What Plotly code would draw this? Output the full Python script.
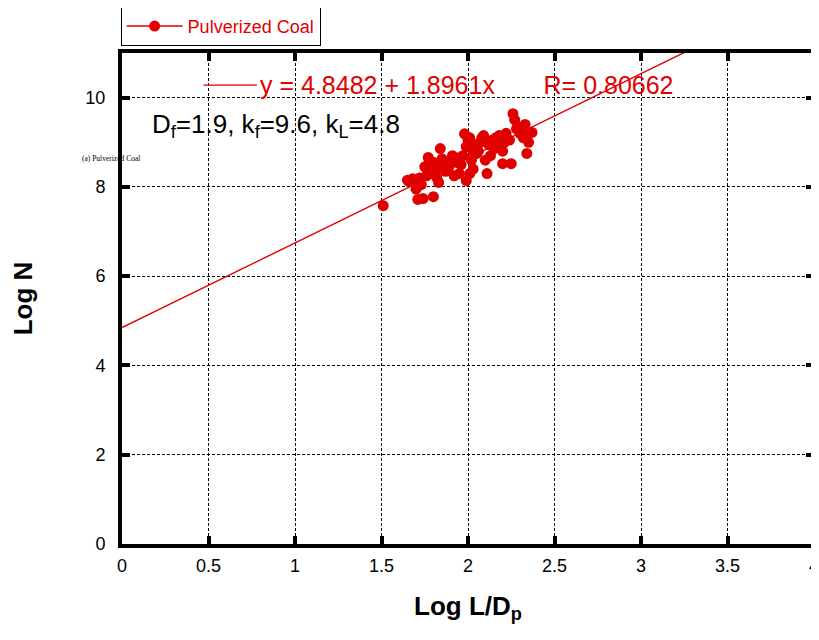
import plotly.graph_objects as go

# Data: Log L/Dp vs Log N (Pulverized Coal)
log_ldp = [1.51,
           1.65, 1.66, 1.68, 1.70, 1.71, 1.73, 1.72, 1.74, 1.77, 1.75, 1.80,
           1.76, 1.78, 1.79, 1.80, 1.84, 1.85, 1.82, 1.81, 1.83, 1.79, 1.84,
           1.86, 1.88, 1.90, 1.87, 1.91, 1.89, 1.92, 1.93, 1.94, 1.95,
           1.96, 1.97, 1.99, 1.98, 2.00, 1.99, 2.01, 2.02, 2.03, 2.04, 2.01, 2.03, 2.05,
           2.06, 2.07, 2.09, 2.08, 2.11, 2.10, 2.12, 2.13, 2.14, 2.15,
           2.16, 2.18, 2.17, 2.25, 2.20, 2.21, 2.22, 2.20, 2.24,
           2.26, 2.27, 2.28, 2.30, 2.31, 2.34, 2.29, 2.32, 2.33, 2.37, 2.35]
log_n = [7.58,
         8.15, 8.12, 8.18, 7.95, 7.72, 8.05, 8.20, 7.74, 8.66, 8.45, 7.78,
         8.25, 8.30, 8.40, 8.55, 8.86, 8.63, 8.20, 8.35, 8.10, 8.48, 8.45,
         8.40, 8.50, 8.60, 8.35, 8.70, 8.45, 8.25, 8.55, 8.65, 8.30,
         8.50, 8.70, 8.90, 9.19, 9.05, 8.14, 8.30, 8.60, 8.80, 8.95, 9.10, 8.40, 8.75,
         8.80, 9.00, 9.15, 9.10, 8.30, 8.60, 8.95, 8.70, 9.05, 8.85,
         9.10, 9.15, 8.90, 8.52, 8.80, 9.00, 9.20, 8.52, 9.05,
         9.64, 9.50, 9.30, 9.20, 9.25, 8.75, 9.35, 9.10, 9.40, 9.22, 9.00]

fit_intercept = 4.8482
fit_slope = 1.8961
fit_r = 0.80662
fit_x = [0, 4]

x_ticks = [0, 0.5, 1, 1.5, 2, 2.5, 3, 3.5, 4]
x_tick_text = ["0", "0.5", "1", "1.5", "2", "2.5", "3", "3.5", "4"]
y_ticks = [0, 2, 4, 6, 8, 10]
y_tick_text = ["0", "2", "4", "6", "8", "10"]

RED = "#e00000"
FONT = "Arial, Liberation Sans, sans-serif"
SP = "&nbsp;"

fig = go.Figure()

fig.add_trace(go.Scatter(
    x=fit_x, y=[fit_intercept + fit_slope * v for v in fit_x],
    mode="lines", line=dict(color=RED, width=1.4), showlegend=False,
    hoverinfo="skip"))

fig.add_trace(go.Scatter(
    x=log_ldp, y=log_n, mode="markers",
    marker=dict(color=RED, size=11, line=dict(width=0)),
    showlegend=False))

# legend entry (line + marker symbol)
fig.add_trace(go.Scatter(
    x=[None], y=[None], mode="lines+markers", name="Pulverized Coal",
    line=dict(color=RED, width=1.4), marker=dict(color=RED, size=11)))

# fit equation label
fig.add_shape(type="line", x0=0.47, x1=0.78, y0=10.28, y1=10.28,
              line=dict(color=RED, width=1.4))
fig.add_annotation(x=0.785, y=10.28, xanchor="left", yanchor="middle",
                   text=f"y = {fit_intercept} + {fit_slope}x{SP*7}R= {fit_r}",
                   showarrow=False, font=dict(family=FONT, size=25, color=RED))

fig.add_annotation(x=0.16, y=9.38, xanchor="left", yanchor="middle",
                   text="D<sub>f</sub>=1.9, k<sub>f</sub>=9.6, k<sub>L</sub>=4.8",
                   showarrow=False, font=dict(family=FONT, size=26, color="black"))

fig.add_annotation(xref="paper", yref="paper", x=-0.0607, y=0.786,
                   xanchor="left", yanchor="middle",
                   text="(a) Pulverized Coal", showarrow=False,
                   font=dict(family="Liberation Serif, Times New Roman, serif", size=7.5, color="black"))

axis_common = dict(
    showline=True, linecolor="black", linewidth=4, mirror="allticks",
    ticks="inside", ticklen=8, tickwidth=4, tickcolor="black",
    showgrid=True, gridcolor="black", gridwidth=1, griddash="3px,2px",
    zeroline=False, tickfont=dict(family=FONT, size=18, color="black"),
    automargin=False, ticklabeloverflow="allow",
)

fig.update_xaxes(range=[0, 4], tickvals=x_ticks, ticktext=x_tick_text,
                 ticklabelstandoff=2,
                 title=dict(text="<b>Log L/D<sub>p</sub></b>",
                            font=dict(family=FONT, size=26, color="black"),
                            standoff=23),
                 **axis_common)
fig.update_yaxes(range=[0, 11], tickvals=y_ticks, ticktext=y_tick_text,
                 ticklabelstandoff=9,
                 title=dict(text="<b>Log N</b>",
                            font=dict(family=FONT, size=26, color="black"),
                            standoff=48),
                 **axis_common)

# page body has an 8px default margin: size the figure so the plot area lands
# at the reference position inside the 819x640 window without page overflow
fig.update_layout(
    width=811, height=624,
    margin=dict(l=114, r=5, t=45, b=88, autoexpand=False),
    plot_bgcolor="white", paper_bgcolor="white",
    font=dict(family=FONT),
    showlegend=True,
    legend=dict(x=-0.002, y=1.094, xanchor="left", yanchor="top",
                bordercolor="black", borderwidth=1, bgcolor="white",
                font=dict(family=FONT, size=18, color=RED),
                itemwidth=56, tracegroupgap=0),
)

fig.write_html("out.html")
